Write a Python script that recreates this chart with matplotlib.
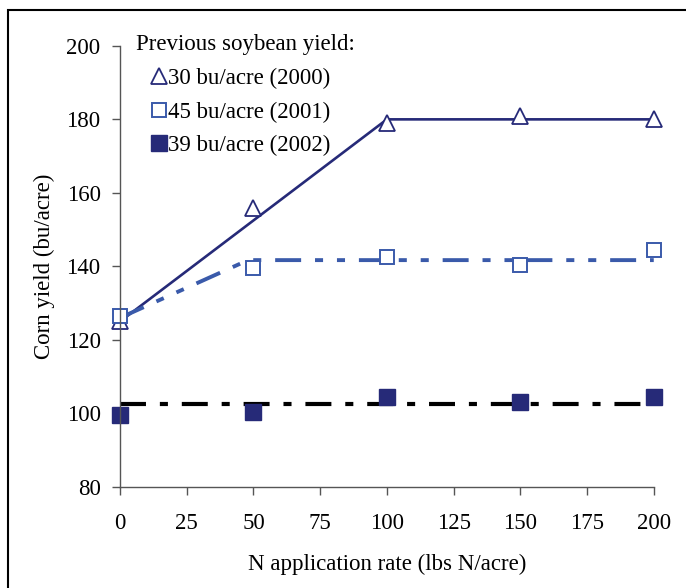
import matplotlib.pyplot as plt
from matplotlib.patches import Rectangle

plt.rcParams['font.family'] = ['Liberation Serif', 'DejaVu Serif']
plt.rcParams['lines.scale_dashes'] = False

n_rate = [0, 50, 100, 150, 200]

# observed corn yield (bu/acre) by previous soybean yield
yield_2000 = [125, 156, 179, 181, 180]
yield_2001 = [126.5, 139.5, 142.5, 140.5, 144.5]
yield_2002 = [99.5, 100.5, 104.5, 103, 104.5]

# fitted response lines
fit_x_2000 = [0, 100, 200]
fit_y_2000 = [125, 180, 180]
fit_x_2001 = [0, 48, 200]
fit_y_2001 = [126, 141.7, 141.7]
fit_x_2002 = [0, 200]
fit_y_2002 = [102.6, 102.6]

navy = '#262a78'
blue = '#3a5aaa'
fs = 16.5

fig = plt.figure(figsize=(6.86, 5.88), dpi=100)
ax = fig.add_axes([0.175, 0.172, 0.778, 0.75])

l1, = ax.plot(fit_x_2000, fit_y_2000, color=navy, lw=1.9, solid_capstyle='butt')
l2, = ax.plot(fit_x_2001, fit_y_2001, color=blue, lw=2.8)
l2.set_dashes((18.7, 10, 5.8, 10, 5.8, 10))
l2.set_dash_capstyle('butt')
l3, = ax.plot(fit_x_2002, fit_y_2002, color='black', lw=3.0)
l3.set_dashes((18.7, 10, 5.8, 10))
l3.set_dash_capstyle('butt')

m1, = ax.plot(n_rate, yield_2000, ls='none', marker='^', ms=11, mfc='white',
              mec=navy, mew=1.3, clip_on=False, label='30 bu/acre (2000)')
m2, = ax.plot(n_rate, yield_2001, ls='none', marker='s', ms=10, mfc='white',
              mec=blue, mew=1.4, clip_on=False, label='45 bu/acre (2001)')
m3, = ax.plot(n_rate, yield_2002, ls='none', marker='s', ms=12, mfc=navy,
              mec=navy, clip_on=False, label='39 bu/acre (2002)')

ax.set_xlim(0, 200)
ax.set_ylim(80, 200)
ax.set_xticks(range(0, 201, 25))
ax.set_yticks(range(80, 201, 20))
ax.spines['top'].set_visible(False)
ax.spines['right'].set_visible(False)
for s in ['left', 'bottom']:
    ax.spines[s].set_color('#555555')
    ax.spines[s].set_linewidth(1.0)
ax.tick_params(direction='out', length=6, width=1, color='#555555',
               labelsize=fs)
ax.tick_params(axis='x', pad=13)
ax.tick_params(axis='y', pad=8)
ax.set_xlabel('N application rate (lbs N/acre)', fontsize=fs, labelpad=14)
ax.set_ylabel('Corn yield (bu/acre)', fontsize=fs, labelpad=8)

leg = ax.legend(handles=[m1, m2, m3], title='Previous soybean yield:',
                loc='upper left', bbox_to_anchor=(0.0, 1.063), frameon=False,
                fontsize=fs, title_fontsize=fs, handlelength=2.0,
                handletextpad=-0.6, borderaxespad=0.3, labelspacing=0.55)
leg._legend_box.align = 'left'

fig.patches.append(Rectangle((7.5 / 686, -0.05), 1.2, 1 - 9.5 / 588 + 0.05,
                             transform=fig.transFigure, fill=False,
                             edgecolor='black', lw=1.5))

fig.savefig('out.png', dpi=100)
